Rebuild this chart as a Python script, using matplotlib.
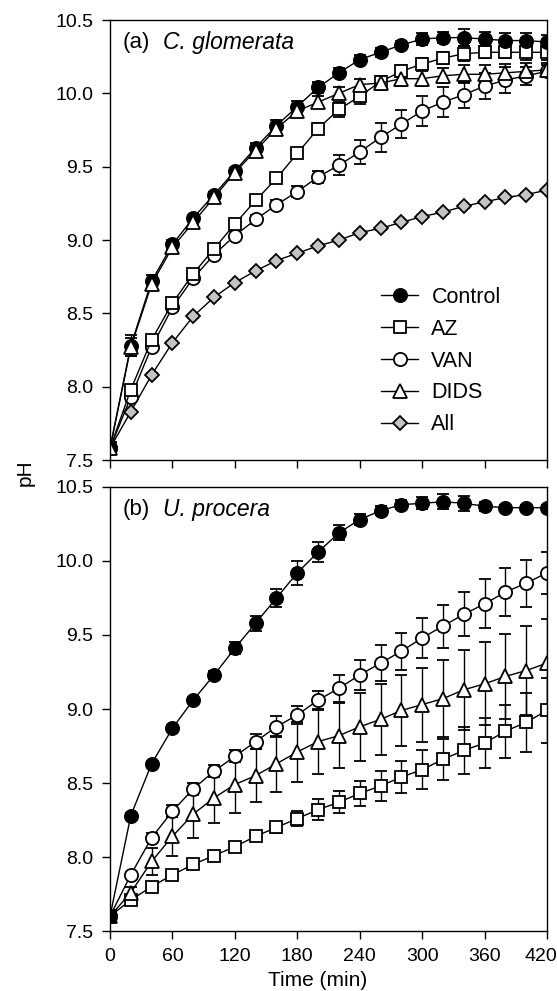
import matplotlib
matplotlib.use("Agg")
import matplotlib.pyplot as plt
import matplotlib.transforms as mtransforms
from matplotlib.lines import Line2D

plt.rcParams['font.family'] = ['Liberation Sans', 'DejaVu Sans']

# sampling times (min)
time = [0, 20, 40, 60, 80, 100, 120, 140, 160, 180, 200,
        220, 240, 260, 280, 300, 320, 340, 360, 380, 400, 420]

# (a) C. glomerata
ctrl_a = [7.58, 8.28, 8.72, 8.97, 9.15, 9.31, 9.47, 9.63, 9.78, 9.91, 10.04,
          10.14, 10.23, 10.28, 10.33, 10.37, 10.38, 10.38, 10.37, 10.36, 10.36, 10.35]
ctrl_a_err = [0.02, 0.07, 0.04, 0.03, 0.02, 0.02, 0.02, 0.03, 0.04, 0.04, 0.04,
              0.03, 0.03, 0.03, 0.03, 0.04, 0.04, 0.06, 0.05, 0.05, 0.05, 0.05]
az_a = [7.58, 7.98, 8.32, 8.57, 8.77, 8.94, 9.11, 9.27, 9.42, 9.59, 9.76,
        9.89, 9.98, 10.08, 10.15, 10.20, 10.24, 10.27, 10.28, 10.28, 10.28, 10.28]
az_a_err = [0.02, 0.03, 0.03, 0.03, 0.02, 0.03, 0.03, 0.03, 0.03, 0.03, 0.04,
            0.05, 0.05, 0.04, 0.04, 0.04, 0.04, 0.05, 0.04, 0.04, 0.05, 0.05]
van_a = [7.58, 7.93, 8.27, 8.54, 8.74, 8.90, 9.03, 9.14, 9.24, 9.33, 9.43,
         9.51, 9.60, 9.70, 9.79, 9.88, 9.94, 9.99, 10.05, 10.09, 10.12, 10.15]
van_a_err = [0.02, 0.03, 0.03, 0.03, 0.03, 0.03, 0.03, 0.03, 0.03, 0.04, 0.04,
             0.07, 0.08, 0.10, 0.095, 0.10, 0.10, 0.09, 0.09, 0.09, 0.06, 0.04]
dids_a = [7.58, 8.27, 8.70, 8.95, 9.12, 9.29, 9.46, 9.61, 9.76, 9.88, 9.94,
          10.00, 10.06, 10.07, 10.10, 10.10, 10.12, 10.13, 10.13, 10.14, 10.15, 10.16]
dids_a_err = [0.02, 0.06, 0.03, 0.03, 0.02, 0.02, 0.02, 0.02, 0.03, 0.03, 0.04,
              0.04, 0.04, 0.05, 0.05, 0.05, 0.05, 0.06, 0.06, 0.06, 0.06, 0.05]
all_a = [7.58, 7.83, 8.08, 8.30, 8.48, 8.61, 8.71, 8.79, 8.86, 8.91, 8.96,
         9.00, 9.05, 9.08, 9.12, 9.16, 9.19, 9.23, 9.26, 9.29, 9.31, 9.34]
all_a_err = [0.01] * 22

# (b) U. procera
ctrl_b = [7.60, 8.28, 8.63, 8.87, 9.06, 9.23, 9.41, 9.58, 9.75, 9.92, 10.06,
          10.19, 10.28, 10.34, 10.38, 10.39, 10.40, 10.39, 10.37, 10.36, 10.36, 10.36]
ctrl_b_err = [0.01, 0.02, 0.02, 0.02, 0.02, 0.03, 0.04, 0.05, 0.06, 0.08, 0.07,
              0.05, 0.04, 0.03, 0.03, 0.04, 0.05, 0.05, 0.03, 0.02, 0.02, 0.02]
az_b = [7.60, 7.71, 7.80, 7.88, 7.95, 8.01, 8.07, 8.14, 8.20, 8.26, 8.32,
        8.37, 8.43, 8.48, 8.54, 8.59, 8.66, 8.72, 8.77, 8.85, 8.91, 8.99]
az_b_err = [0.01, 0.01, 0.01, 0.01, 0.01, 0.02, 0.02, 0.03, 0.04, 0.05, 0.07,
            0.075, 0.085, 0.10, 0.11, 0.13, 0.14, 0.16, 0.17, 0.18, 0.20, 0.22]
van_b = [7.60, 7.88, 8.13, 8.31, 8.46, 8.58, 8.68, 8.78, 8.88, 8.96, 9.06,
         9.14, 9.23, 9.31, 9.39, 9.48, 9.56, 9.64, 9.71, 9.79, 9.85, 9.92]
van_b_err = [0.01, 0.02, 0.03, 0.04, 0.04, 0.04, 0.04, 0.05, 0.07, 0.06, 0.065,
             0.09, 0.10, 0.12, 0.125, 0.135, 0.145, 0.15, 0.165, 0.16, 0.16, 0.14]
dids_b = [7.60, 7.76, 7.97, 8.14, 8.29, 8.40, 8.49, 8.55, 8.63, 8.71, 8.78,
          8.82, 8.88, 8.93, 8.99, 9.03, 9.07, 9.13, 9.17, 9.22, 9.26, 9.31]
dids_b_err = [0.01, 0.04, 0.09, 0.13, 0.16, 0.17, 0.19, 0.18, 0.19, 0.20, 0.22,
              0.22, 0.23, 0.24, 0.24, 0.25, 0.26, 0.27, 0.28, 0.29, 0.30, 0.30]

labels = ['Control', 'AZ', 'VAN', 'DIDS', 'All']
markers = ['o', 's', 'o', '^', 'D']
faces = ['black', 'white', 'white', 'white', '#c4c4c4']
sizes = [9.5, 9, 9.5, 9.5, 7.5]

fig = plt.figure(figsize=(5.57, 9.91), dpi=100)
ax_a = fig.add_axes([0.1975, 0.5358, 0.7845, 0.4440])
ax_b = fig.add_axes([0.1975, 0.0605, 0.7845, 0.4481])


def draw_panel(ax, series, errs, order):
    for i in order:
        ax.errorbar(time, series[i], yerr=errs[i], color='black', lw=1.0,
                    marker=markers[i], ms=sizes[i], mfc=faces[i], mec='black',
                    mew=1.3, ecolor='black', elinewidth=1.0, capsize=4.5,
                    capthick=1.0)
    ax.set_xlim(0, 420)
    ax.set_ylim(7.5, 10.5)
    ax.set_xticks(range(0, 421, 60))
    ax.set_yticks([7.5, 8.0, 8.5, 9.0, 9.5, 10.0, 10.5])
    ax.set_yticklabels(['7.5', '8.0', '8.5', '9.0', '9.5', '10.0', '10.5'])
    ax.tick_params(direction='out', length=6, width=1.0, pad=6, labelsize=14)
    for sp in ax.spines.values():
        sp.set_linewidth(1.0)


series_a = [ctrl_a, az_a, van_a, dids_a, all_a]
errs_a = [ctrl_a_err, az_a_err, van_a_err, dids_a_err, all_a_err]
draw_panel(ax_a, series_a, errs_a, [4, 2, 1, 0, 3])
ax_a.tick_params(labelbottom=False)

series_b = [ctrl_b, az_b, van_b, dids_b]
errs_b = [ctrl_b_err, az_b_err, van_b_err, dids_b_err]
draw_panel(ax_b, series_b, errs_b, [1, 3, 2, 0])

# keep the last x label inside the figure
last = ax_b.get_xticklabels()[-1]
last.set_transform(last.get_transform() +
                   mtransforms.ScaledTranslation(-6 / 100, 0, fig.dpi_scale_trans))

# legend in panel (a): line + marker, no error bars
handles = [Line2D([], [], color='black', lw=1.0, marker=markers[i], ms=sizes[i],
                  mfc=faces[i], mec='black', mew=1.3) for i in range(5)]
ax_a.legend(handles, labels, loc='center left',
            bbox_to_anchor=(0.6, 0.225), frameon=False, fontsize=15.5,
            handlelength=1.75, handletextpad=0.6, labelspacing=0.5,
            borderaxespad=0)

for ax, tag, name in [(ax_a, '(a)', 'C. glomerata'), (ax_b, '(b)', 'U. procera')]:
    ax.text(0.03, 0.95, tag, transform=ax.transAxes, fontsize=16, va='center')
    ax.text(0.122, 0.95, name, transform=ax.transAxes, fontsize=16.5,
            va='center', style='italic')

fig.text(0.045, 0.523, 'pH', rotation=90, fontsize=15, ha='center', va='center')
fig.text(0.571, 0.001, 'Time (min)', fontsize=15, ha='center', va='bottom')

plt.savefig('out.png', dpi=100)
plt.close()
